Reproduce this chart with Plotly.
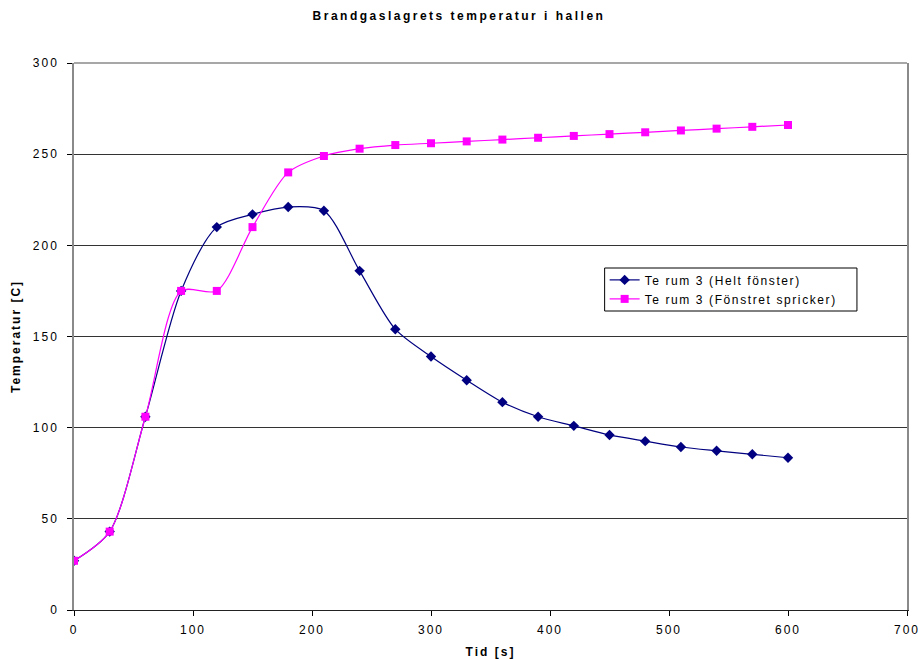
import plotly.graph_objects as go

tid = [0, 30, 60, 90, 120, 150, 180, 210, 240, 270, 300, 330, 360, 390, 420,
       450, 480, 510, 540, 570, 600]
helt_fonster = [27, 43, 106, 175, 210, 217, 221, 219, 186, 154, 139, 126, 114,
                106, 101, 96, 92.6, 89.4, 87.3, 85.4, 83.5]
fonstret_spricker = [27, 43, 106, 175, 175, 210, 240, 249, 253, 255, 256, 257,
                     258, 259, 260, 261, 262, 263, 264, 265, 266]

font = "Liberation Sans, Arial, sans-serif"
fs = 12
frame_gray = "#8a8a8a"

fig = go.Figure()
fig.add_trace(go.Scatter(
    x=tid, y=helt_fonster, mode="lines+markers",
    name="Te rum 3 (Helt fönster)",
    line=dict(color="#000080", width=1.2, shape="spline", smoothing=0.8),
    marker=dict(symbol="diamond", size=8, color="#000080"),
))
fig.add_trace(go.Scatter(
    x=tid, y=fonstret_spricker, mode="lines+markers",
    name="Te rum 3 (Fönstret spricker)",
    line=dict(color="#FF00FF", width=1.2, shape="spline", smoothing=0.8),
    marker=dict(symbol="square", size=8, color="#FF00FF"),
))

fig.update_layout(
    width=918, height=659,
    paper_bgcolor="white", plot_bgcolor="white",
    margin=dict(l=74, r=11, t=63, b=49, autoexpand=False),
    font=dict(family=font, size=fs, color="black"),
    title=dict(text="<b>Brandgaslagrets temperatur i hallen</b>",
               x=0.5, xref="container", xanchor="center",
               y=1 - 16 / 659, yanchor="middle",
               font=dict(family=font, size=fs)),
    showlegend=True,
    legend=dict(x=(604 - 74) / 832, y=0.630, xanchor="left", yanchor="top",
                borderwidth=0, bgcolor="rgba(0,0,0,0)",
                font=dict(family=font, size=fs), tracegroupgap=0,
                itemwidth=30),
    shapes=[
        # legend frame
        dict(type="rect", xref="paper", yref="paper",
             x0=(604 - 74) / 832, x1=(856 - 74) / 832,
             y0=(610 - 311) / 547, y1=(610 - 268) / 547,
             line=dict(color="black", width=1), fillcolor="white",
             layer="below"),
        # top edge of the plot frame
        dict(type="line", xref="paper", yref="paper", x0=0, x1=1, y0=1, y1=1,
             line=dict(color=frame_gray, width=1.5), layer="above"),
    ],
)
fig.update_xaxes(
    range=[0, 700], dtick=100, showgrid=False, zeroline=False,
    showline=True, linecolor="#222222", linewidth=1,
    ticks="outside", ticklen=5, tickcolor="black", ticklabelstandoff=4,
    automargin=False,
    title=dict(text="<b>Tid [s]</b>", font=dict(family=font, size=fs), standoff=14),
)
fig.update_yaxes(
    range=[0, 300], dtick=50, showgrid=True, gridcolor="#333333", gridwidth=1,
    zeroline=False, showline=True, linecolor=frame_gray, linewidth=1.5, mirror=True,
    ticks="outside", ticklen=5, tickcolor="black", ticklabelstandoff=6,
    automargin=False,
    title=dict(text="<b>Temperatur [C]</b>", font=dict(family=font, size=fs), standoff=16),
)

# widen the glyph spacing of every text element, as in the original print layout,
# and let the legend entries run past plotly's measured box
spacing_js = """
var gd = document.getElementById('{plot_id}');
gd.querySelectorAll('text').forEach(function(t){
  t.style.letterSpacing = '2px';
});
var title = gd.querySelector('.g-gtitle text');
if (title) { title.style.letterSpacing = '2.5px'; }
gd.querySelectorAll('.legend text').forEach(function(t){
  t.style.letterSpacing = '1.6px';
});
gd.querySelectorAll('.legend .scrollbox, .legend').forEach(function(e){
  e.removeAttribute('clip-path');
});
"""

fig.write_html("out.html", post_script=spacing_js)
